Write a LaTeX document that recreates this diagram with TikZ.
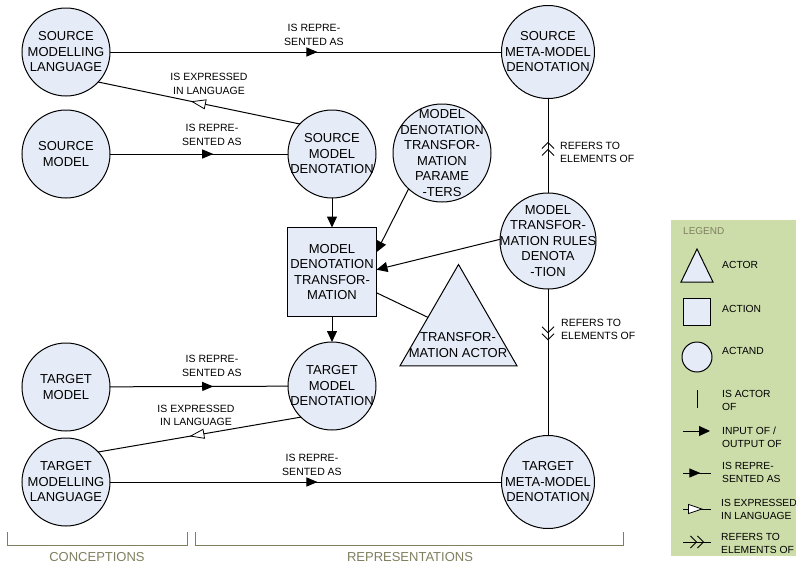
\documentclass[tikz,border=0pt]{standalone}
\usepackage{fontspec}
\setmainfont{Liberation Sans}
\usetikzlibrary{arrows.meta,decorations.markings,shapes.geometric}

\definecolor{actfill}{HTML}{E6ECF7}
\definecolor{legendbg}{HTML}{CCDDAA}
\definecolor{bracketc}{HTML}{7F7F5F}

\tikzset{
  actand/.style={circle, draw=black, line width=1pt, fill=actfill, inner sep=0pt, outer sep=0pt, minimum size=#1},
  actand/.default=88pt,
  actionbox/.style={rectangle, draw=black, line width=1pt, fill=actfill, inner sep=0pt, outer sep=0pt, minimum size=89pt},
  ctext/.style={font=\fontsize{13}{15.5}\selectfont, align=center, inner sep=0pt, text=black},
  lbl/.style={font=\fontsize{10.5}{13.5}\selectfont, align=center, inner sep=0pt},
  leglbl/.style={font=\fontsize{10.3}{13}\selectfont, align=left, inner sep=0pt, anchor=west},
  conn/.style={line width=1pt},
  represented/.style={conn, decoration={markings, mark=at position #1 with {\arrow{Triangle[length=11pt,width=9pt]}}}, postaction={decorate}},
  expressed/.style={conn, decoration={markings, mark=at position #1 with {\arrow{Triangle[length=15pt,width=10pt,fill=white,line width=0.8pt]}}}, postaction={decorate}},
  refers/.style={conn, decoration={markings, mark=at position #1 with {\arrow{Straight Barb[length=6pt,width=12pt,line width=0.8pt] Straight Barb[length=6pt,width=12pt,line width=0.8pt]}}}, postaction={decorate}},
  inputof/.style={conn, -{Triangle[length=11pt,width=10pt]}},
  bracket/.style={draw=bracketc, line width=1pt},
  brlbl/.style={font=\fontsize{13}{15}\selectfont, text=bracketc, inner sep=0pt},
}

\begin{document}
\begin{tikzpicture}[x=1pt,y=-1pt]
\useasboundingbox (0,0) rectangle (796,565);

% ---- actands ----
\node[actand, label={[ctext]center:SOURCE\\MODELLING\\LANGUAGE}] (sml) at (66,52) {};
\node[actand=93pt, label={[ctext]center:SOURCE\\META-MODEL\\DENOTATION}] (smmd) at (548,52) {};
\node[actand, label={[ctext]center:SOURCE\\MODEL}] (sm) at (66,154) {};
\node[actand, label={[ctext]center:SOURCE\\MODEL\\DENOTATION}] (smd) at (332,154) {};
\node[actand=98pt, label={[ctext]center:MODEL\\DENOTATION\\TRANSFOR-\\MATION\\PARAME\\-TERS}] (mdtp) at (442,153) {};
\node[actand=96pt, label={[ctext]center:MODEL\\TRANSFOR-\\MATION RULES\\DENOTA\\-TION}] (mtrd) at (548,241) {};
\node[actand, label={[ctext]center:TARGET\\MODEL}] (tm) at (66,387) {};
\node[actand, label={[ctext]center:TARGET\\MODEL\\DENOTATION}] (tmd) at (332,386) {};
\node[actand, label={[ctext]center:TARGET\\MODELLING\\LANGUAGE}] (tml) at (66,482) {};
\node[actand=93pt, label={[ctext]center:TARGET\\META-MODEL\\DENOTATION}] (tmmd) at (548,482) {};

% ---- action and actor ----
\node[actionbox, label={[ctext]center:MODEL\\DENOTATION\\TRANSFOR-\\MATION}] (mdt) at (332,272) {};
\node[regular polygon, regular polygon sides=3, draw=black, line width=1pt, fill=actfill,
      minimum size=135pt, inner sep=0pt, outer sep=0pt] (actor) at (458.5,332) {};
\node[ctext] (actorlbl) at (458,345) {TRANSFOR-\\MATION ACTOR};

% ---- connectors ----
\draw[represented=0.53] (sml) -- (smmd);
\draw[expressed=0.54] (smd.137) -- (sml.-43);
\draw[represented=0.58] (sm) -- (smd);
\draw[inputof] (smd) -- (mdt);
\draw[inputof] (mdtp.227) -- (mdt.24);
\draw[inputof] (mtrd.178) -- (mdt.3);
\draw[conn] (mdt.-25) -- (actor);
\draw[inputof] (mdt) -- (tmd);
\draw[represented=0.58] (tm) -- (tmd);
\draw[expressed=0.55] (tmd.-135) -- (tml.43);
\draw[represented=0.53] (tml) -- (tmmd);
\draw[refers=0.54] (mtrd) -- (smmd);
\draw[refers=0.35] (mtrd) -- (tmmd);

% ---- connector labels ----
\node[lbl] (l1) at (314,35) {IS REPRE-\\SENTED AS};
\node[lbl] (l2) at (209,84) {IS EXPRESSED\\IN LANGUAGE};
\node[lbl] (l3) at (212,135) {IS REPRE-\\SENTED AS};
\node[lbl] (l4) at (212,366) {IS REPRE-\\SENTED AS};
\node[lbl] (l5) at (196,415.5) {IS EXPRESSED\\IN LANGUAGE};
\node[lbl] (l6) at (312,465) {IS REPRE-\\SENTED AS};
\node[lbl, align=left, anchor=west] (l7) at (560,152.5) {REFERS TO\\ELEMENTS OF};
\node[lbl, align=left, anchor=west] (l8) at (561,329.5) {REFERS TO\\ELEMENTS OF};

% ---- brackets ----
\draw[bracket] (7,532) -- (7,545) -- (187,545) -- (187,532);
\draw[bracket] (195,532) -- (195,545) -- (623,545) -- (623,532);
\node[brlbl] (conc) at (97,557) {CONCEPTIONS};
\node[brlbl] (repr) at (410,557) {REPRESENTATIONS};

% ---- legend ----
\fill[legendbg] (671,220) rectangle (796,556);
\node[font=\fontsize{10}{12}\selectfont, text=bracketc, inner sep=0pt, anchor=west] (legtitle) at (683,231) {LEGEND};
\draw[line width=1pt, fill=actfill] (697,249) -- (713,282) -- (681,282) -- cycle;
\node[leglbl] (lgactor) at (722,265) {ACTOR};
\node[rectangle, draw=black, line width=1pt, fill=actfill, minimum size=27pt, inner sep=0pt] (lgbox) at (697,311.5) {};
\node[leglbl] (lgaction) at (722,309) {ACTION};
\node[circle, draw=black, line width=1pt, fill=actfill, minimum size=30pt, inner sep=0pt] (lgcirc) at (697,357) {};
\node[leglbl] (lgactand) at (722,351) {ACTAND};
\coordinate (a1) at (697,390); \coordinate (a2) at (697,408);
\draw[conn] (a1) -- (a2);
\node[leglbl] (lgisactor) at (722,400) {IS ACTOR\\OF};
\coordinate (b1) at (683,431); \coordinate (b2) at (710,431);
\draw[inputof] (b1) -- (b2);
\node[leglbl] (lginput) at (722,437) {INPUT OF /\\OUTPUT OF};
\coordinate (c1) at (683,473); \coordinate (c2) at (711,473);
\draw[represented=0.62] (c1) -- (c2);
\node[leglbl] (lgrepr) at (722,472.5) {IS REPRE-\\SENTED AS};
\coordinate (d1) at (683,509); \coordinate (d2) at (711,509);
\draw[expressed=0.72] (d1) -- (d2);
\node[leglbl] (lgexpr) at (721,509.5) {IS EXPRESSED\\IN LANGUAGE};
\coordinate (e1) at (683,542); \coordinate (e2) at (711,542);
\draw[refers=0.75] (e1) -- (e2);
\node[leglbl] (lgrefers) at (721,543) {REFERS TO\\ELEMENTS OF};
\end{tikzpicture}
\end{document}
